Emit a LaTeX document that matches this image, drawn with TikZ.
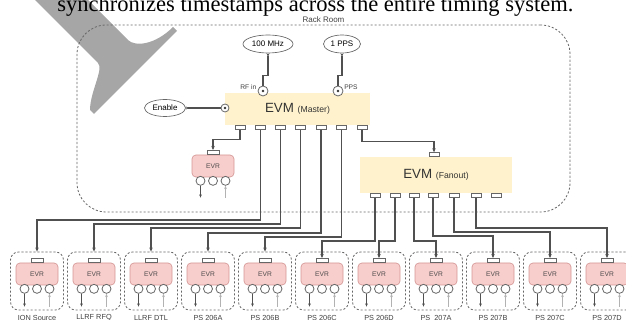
\documentclass[tikz,border=0pt]{standalone}
\usepackage{fontspec}
\setmainfont{Liberation Serif}
\setsansfont{Liberation Sans}
\usepackage{xcolor}
\usetikzlibrary{shapes.geometric, arrows.meta, positioning, calc}
\definecolor{evmYellow}{HTML}{FFF2CC}
\definecolor{evrRed}{HTML}{F8CECC}
\definecolor{evrEdge}{HTML}{B85450}
\definecolor{wireGray}{HTML}{505050}
\definecolor{penGray}{HTML}{666666}

\begin{document}
\begin{tikzpicture}[x=0.75pt, y=-0.75pt,
    evm/.style={rectangle, fill=evmYellow, minimum width=108.75pt, minimum height=24pt,
      font=\sffamily\fontsize{10}{11}\selectfont, text=black!80, inner sep=0pt},
    evr/.style={rectangle, rounded corners=3pt, fill=evrRed, draw=evrEdge!60, line width=0.5pt,
      minimum width=31.5pt, minimum height=16.5pt, font=\sffamily\fontsize{5}{6}\selectfont, text=black!70},
    slot/.style={rectangle, draw=penGray, fill=white, line width=0.5pt, minimum width=7.5pt,
      minimum height=3pt, inner sep=0pt},
    evrslot/.style={slot, minimum width=9pt},
    jack/.style={circle, draw=penGray, fill=white, line width=0.6pt, minimum size=6.75pt, inner sep=0pt},
    sma/.style={jack, path picture={\fill[black!80] (path picture bounding box.center) circle (1pt);}},
    src/.style={ellipse, draw=penGray, fill=white, line width=0.5pt, inner sep=0pt,
      font=\sffamily\fontsize{6}{7}\selectfont},
    crate/.style={rectangle, draw=penGray, dash pattern=on 1.6pt off 1.4pt, rounded corners=6pt,
      line width=0.6pt, minimum width=39.75pt, minimum height=43.5pt},
    tag/.style={font=\sffamily\fontsize{5.5}{6}\selectfont, text=black!75, inner sep=0pt},
    wire/.style={draw=wireGray, line width=0.8pt},
    feed/.style={wire, -{Stealth[length=3pt, width=2.6pt]}},
    tap/.style={wire, {Stealth[length=2.5pt, width=2.2pt, reversed]}-},
    pin/.style={-{Stealth[length=2.5pt, width=2pt]}, line width=0.6pt}
  ]
  \useasboundingbox (0,0) rectangle (626,320);

  % grey marker behind the heading
  \fill[black!35] (25,-10) -- (98,63) .. controls (104,69) and (90,92) .. (90,110) -- (94,114)
    -- (177,31) -- (173,27) .. controls (155,45) and (135,47) .. (128,40) -- (78,-10) -- cycle;
  \node[font=\fontsize{16.9}{18}\selectfont, anchor=base west, inner sep=0pt] (heading) at (57,11.5)
    {synchronizes timestamps across the entire timing system.};

  % rack room
  \node[rectangle, draw=penGray, dash pattern=on 1.6pt off 1.4pt, rounded corners=22pt, line width=0.6pt,
    minimum width=369.75pt, minimum height=140.25pt] (rack) at (323.5,118.5) {};
  \node[tag, font=\sffamily\fontsize{6}{7}\selectfont, above=1.5pt of rack.north] (rackname) {Rack Room};

  % event masters
  \node[evm] (master) at (297.5,109) {EVM {\fontsize{6.5}{7}\selectfont(Master)}};
  \node[evm, minimum width=114pt, minimum height=27pt] (fanout) at (436,175) {EVM {\fontsize{6.5}{7}\selectfont(Fanout)}};
  \foreach \x [count=\i] in {240,260.5,280.5,300.5,321,341.5,362}
    \node[slot, anchor=north] (mp\i) at (\x,125) {};
  \foreach \x [count=\i] in {375,395,414,433,454,476,496}
    \node[slot, anchor=north] (fp\i) at (\x,193) {};
  \node[slot, anchor=south] (fin) at (434,157) {};

  % clock and trigger inputs
  \node[sma, minimum size=7.5pt] (rfin) at (263,91) {};
  \node[sma, minimum size=7.5pt] (pps) at (338,91) {};
  \node[sma, minimum size=6pt] (enin) at (225,108) {};
  \node[tag, font=\sffamily\fontsize{5}{6}\selectfont, anchor=east] (rfname) at (256.5,87) {RF in};
  \node[tag, font=\sffamily\fontsize{5}{6}\selectfont, anchor=west] (ppsname) at (344,87) {PPS};
  \node[src, minimum width=37.5pt, minimum height=13.5pt] (mhz) at (268,44) {100 MHz};
  \node[src, minimum width=27.75pt, minimum height=13.5pt] (pulse) at (342,44) {1 PPS};
  \node[src, minimum width=30.75pt, minimum height=12.75pt] (enable) at (165,108) {Enable};

  \draw[tap] (mhz.south) -- ++(0,22) -| (rfin.north);
  \draw[tap] (pulse.south) -- ++(0,22) -| (pps.north);
  \draw[tap] (enable.east) -- (enin.west);

  % receiver inside the rack
  \node[evr] (lev) at (213,166) {EVR};
  \node[evrslot, anchor=south] (lp) at (lev.north) {};
  \foreach \dx [count=\k] in {-12.5,0,12.5}
    \node[jack] (lj\k) at ($(lev.south)+(\dx,3.5)$) {};
  \coordinate (ldown) at ($(lj1.south)+(0,12)$);
  \coordinate (lup) at ($(lj3.south)+(0,12)$);
  \draw[pin, wireGray] (lj1.south) -- (ldown);
  \draw[pin, black!30] (lup) -- (lj3.south);

  \draw[feed] (mp1.south) -- ++(0,10) -| (lp.north);
  \draw[feed] (mp7.south) -- ++(0,12) -| (fin.north);

  % field receivers
  \foreach \name [count=\i from 0] in {ION Source, LLRF RFQ, LLRF DTL, PS 206A, PS 206B, PS 206C,
      PS 206D, PS\ \ 207A, PS 207B, PS 207C, PS 207D} {
    \node[crate] (c\i) at (37+57*\i,281) {};
    \node[evr] (e\i) at (37+57*\i,274) {EVR};
    \node[evrslot, anchor=south] (p\i) at (e\i.north) {};
    \node[jack] (j\i-1) at ($(e\i.south)+(-12.5,3.5)$) {};
    \node[jack] (j\i-2) at ($(e\i.south)+(0,3.5)$) {};
    \node[jack] (j\i-3) at ($(e\i.south)+(12.5,3.5)$) {};
    \coordinate (d\i) at ($(j\i-1.south)+(0,13)$);
    \coordinate (u\i) at ($(j\i-3.south)+(0,13)$);
    \draw[pin, wireGray] (j\i-1.south) -- (d\i);
    \draw[pin, black!30] (u\i) -- (j\i-3.south);
    \node[tag] (l\i) at (37+57*\i,318) {\name};
  }

  % timing fibres
  \foreach \m/\j/\y in {2/0/220, 3/1/224, 4/2/228, 5/3/233, 6/4/237}
    \draw[feed] (mp\m.south) -- (mp\m.south |- 0,\y) -| (c\j.north);
  \foreach \f/\j/\y in {1/5/241, 2/6/241, 3/7/241, 4/8/236, 5/9/232, 6/10/228}
    \draw[feed] (fp\f.south) -- (fp\f.south |- 0,\y) -| (p\j.north);
\end{tikzpicture}
\end{document}
